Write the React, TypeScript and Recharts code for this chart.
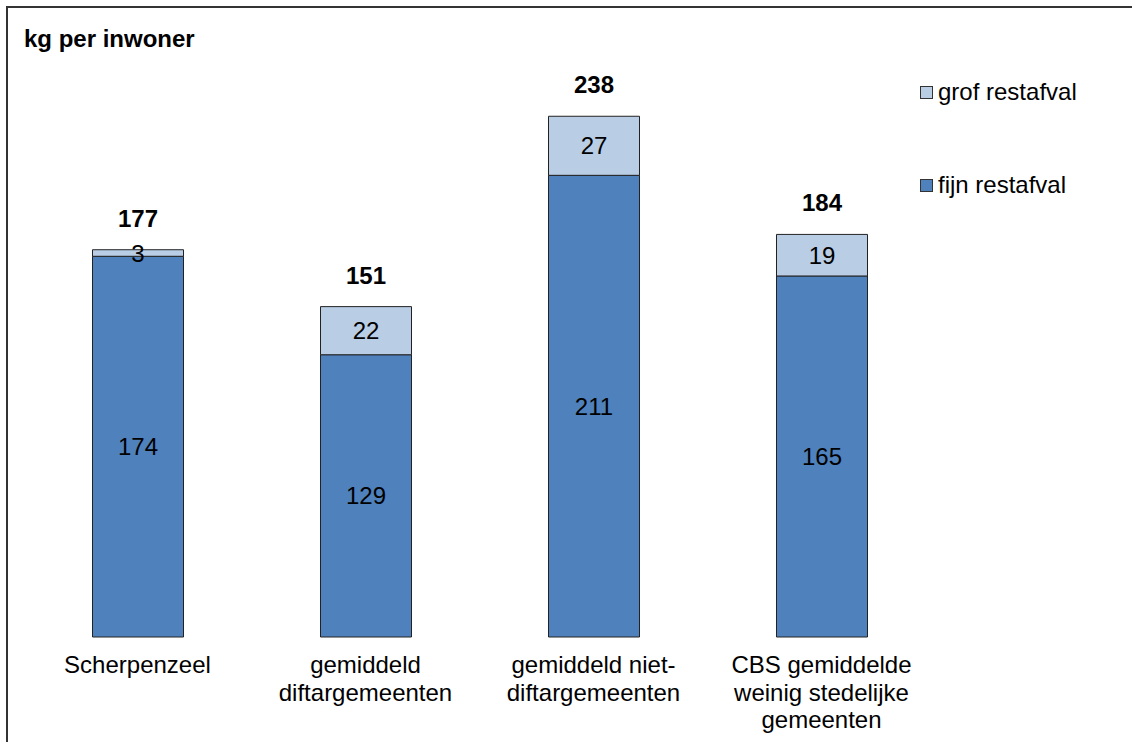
import React from 'react';
import { BarChart, Bar, XAxis, YAxis, LabelList, Legend } from 'recharts';

const categories = [
  'Scherpenzeel',
  'gemiddeld\ndiftargemeenten',
  'gemiddeld niet-\ndiftargemeenten',
  'CBS gemiddelde\nweinig stedelijke\ngemeenten',
];
const fijnRestafval = [174, 129, 211, 165];
const grofRestafval = [3, 22, 27, 19];
const totals = [177, 151, 238, 184];

const FONT = '"Liberation Sans", Arial, sans-serif';
const FIJN_COLOR = '#4F81BD';
const GROF_COLOR = '#B9CDE5';

const chartData = categories.map((name, i) => ({
  name,
  fijn: fijnRestafval[i],
  grof: grofRestafval[i],
  total: totals[i],
}));

const CategoryTick = (props: any) => {
  const { x, y, payload } = props;
  const lines = String(payload.value).split('\n');
  return (
    <text x={x} y={y + 36} textAnchor="middle" fontFamily={FONT} fontSize={24} fill="#000">
      {lines.map((line, i) => (
        <tspan key={i} x={x} dy={i === 0 ? 0 : 27.5}>
          {line}
        </tspan>
      ))}
    </text>
  );
};

const TotalLabel = (props: any) => {
  const { x, y, width, index } = props;
  return (
    <text
      x={x + width / 2}
      y={y - 23}
      textAnchor="middle"
      fontFamily={FONT}
      fontSize={24}
      fontWeight="bold"
      fill="#000"
    >
      {totals[index]}
    </text>
  );
};

const legendItems = [
  { label: 'grof restafval', color: GROF_COLOR },
  { label: 'fijn restafval', color: FIJN_COLOR },
];

const LegendContent = () => (
  <div style={{ fontFamily: FONT, fontSize: 24, color: '#000' }}>
    {legendItems.map((item, i) => (
      <div
        key={item.label}
        style={{ display: 'flex', alignItems: 'center', height: 28, marginBottom: i === 0 ? 65 : 0 }}
      >
        <span
          style={{
            display: 'inline-block',
            width: 11,
            height: 11,
            background: item.color,
            border: '1px solid #333',
            marginRight: 5,
          }}
        />
        <span>{item.label}</span>
      </div>
    ))}
  </div>
);

const App: React.FC = () => {
  return (
    <div style={{ position: 'absolute', left: 0, top: 0, width: 1132, height: 742, background: '#fff' }}>
      <div
        style={{
          position: 'absolute',
          left: 6,
          top: 6,
          width: 1126,
          height: 736,
          boxSizing: 'border-box',
          borderTop: '2px solid #333',
          borderLeft: '2px solid #333',
        }}
      />
      <div
        style={{
          position: 'absolute',
          left: 24,
          top: 25,
          lineHeight: '28px',
          fontFamily: FONT,
          fontSize: 24,
          fontWeight: 'bold',
          color: '#000',
        }}
      >
        kg per inwoner
      </div>
      <div style={{ position: 'absolute', left: 0, top: 0 }}>
        <BarChart
          width={1132}
          height={742}
          data={chartData}
          margin={{ top: 90, right: 196.5, left: 23.5, bottom: 5 }}
        >
          <XAxis
            dataKey="name"
            axisLine={false}
            tickLine={false}
            tickSize={0}
            tickMargin={0}
            height={100}
            interval={0}
            tick={<CategoryTick />}
          />
          <YAxis hide domain={[0, 250]} />
          <Legend
            layout="vertical"
            align="center"
            verticalAlign="middle"
            content={<LegendContent />}
            wrapperStyle={{ left: 920, top: 78, width: 200 }}
          />
          <Bar dataKey="fijn" stackId="a" fill={FIJN_COLOR} stroke="#222" strokeWidth={1} barSize={91} isAnimationActive={false}>
            <LabelList dataKey="fijn" position="center" fill="#000" fontSize={24} fontFamily={FONT} />
          </Bar>
          <Bar dataKey="grof" stackId="a" fill={GROF_COLOR} stroke="#222" strokeWidth={1} barSize={91} isAnimationActive={false}>
            <LabelList dataKey="grof" position="center" fill="#000" fontSize={24} fontFamily={FONT} />
            <LabelList dataKey="total" content={<TotalLabel />} />
          </Bar>
        </BarChart>
      </div>
    </div>
  );
};

export default App;
